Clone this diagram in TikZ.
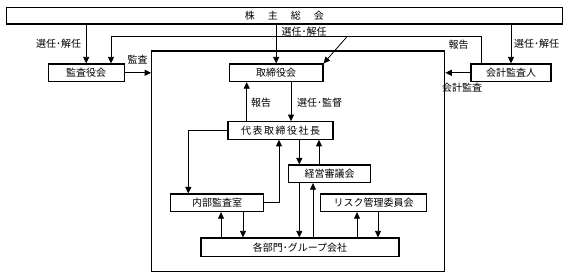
\documentclass[tikz,border=0pt]{standalone}
\usepackage{fontspec}
\setmainfont{Noto Sans CJK JP}
\usetikzlibrary{arrows.meta}
\tikzset{gvbox/.style={draw,line width=1.1pt,fill=white,inner sep=0pt,minimum height=17.6pt},
         gvarr/.style={line width=0.8pt,-{Triangle[length=6.5pt,width=6pt]}},
         gvlab/.style={inner sep=0pt}}

\begin{document}
\begin{tikzpicture}[x=1pt, y=-1pt, every node/.style={font=\fontsize{10}{12}\selectfont}]
  \useasboundingbox (0,0) rectangle (570,278);
  % frame of the company
  \node[draw,line width=1.2pt,inner sep=0pt,minimum width=293pt,minimum height=220.7pt] (grp) at (298.2,161.4) {};
  % general meeting and the bodies it elects
  \node[gvbox,minimum width=556.7pt,minimum height=16.7pt] (gms) at (284.4,15.7) {株\kern13pt 主\kern13pt 総\kern13pt 会};
  \node[gvbox,minimum width=75.7pt] (kansa) at (86.2,72.8) {監査役会};
  \node[gvbox,minimum width=93.5pt] (tori) at (276.2,72.8) {取締役会};
  \node[gvbox,minimum width=80pt] (kaikei) at (511,72.8) {会計監査人};
  \foreach \n in {kansa,tori,kaikei} \draw[gvarr] (gms.south -| \n.north) -- (\n.north);
  \node[gvlab] (l1) at (58.5,44) {選任･解任};
  \node[gvlab] (l2) at (304,31.7) {選任･解任};
  \node[gvlab] (l3) at (536.5,44) {選任･解任};
  % report line of the auditor
  \coordinate (rt) at (481.7,36.7); \coordinate (lt) at (111,36.7); \coordinate (dg) at (347,36.7);
  \draw[gvarr] (kaikei.north -| rt) -- (rt) -- (lt) -- (kansa.north -| lt);
  \draw[gvarr] (dg) -- (tori.north east);
  \node[gvlab] (l4) at (458.5,45) {報告};
  % audits
  \draw[gvarr] (kansa.east) -- (kansa.east -| grp.west);
  \draw[gvarr] (kaikei.west) -- (kaikei.west -| grp.east);
  \node[gvlab] (l5) at (137.7,60) {監査};
  \node[gvlab] (l6) at (462,88) {会計監査};
  % inside the company
  \node[gvbox,minimum width=105pt] (pres) at (280.5,130.5) {代\kern1.5pt 表\kern1.5pt 取\kern1.5pt 締\kern1.5pt 役\kern1.5pt 社\kern1.5pt 長};
  \node[gvbox,minimum width=82.5pt] (keiei) at (329.5,173.8) {経営審議会};
  \node[gvbox,minimum width=93.2pt] (naibu) at (217.2,202.8) {内部監査室};
  \node[gvbox,minimum width=105.6pt] (risk) at (373.6,202.8) {リスク管理委員会};
  \node[gvbox,minimum width=198pt,minimum height=18.7pt] (bumon) at (300,247.3) {各部門･グループ会社};
  \foreach \x/\a/\b in {246.7/pres.north/tori.south, 291/tori.south/pres.north,
      299.3/pres.south/keiei.north, 319/keiei.north/pres.south,
      299.3/keiei.south/bumon.north, 313/bumon.north/keiei.south,
      221/bumon.north/naibu.south, 243/naibu.south/bumon.north,
      357/bumon.north/risk.south, 378/risk.south/bumon.north}
    \draw[gvarr] (\a -| \x,0) -- (\b -| \x,0);
  \draw[gvarr] (pres.west) -| (naibu.north -| 188.3,0);
  \draw[gvarr] (naibu.east) -| (pres.south -| 279,0);
  \node[gvlab] (l7) at (261,103) {報告};
  \node[gvlab] (l8) at (319.7,103) {選任･監督};
\end{tikzpicture}
\end{document}
